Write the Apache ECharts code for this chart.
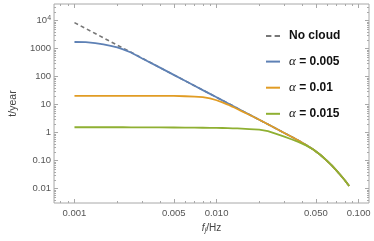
<!DOCTYPE html>
<html>
<head>
<meta charset="utf-8">
<script src="https://cdn.jsdelivr.net/npm/echarts@6/dist/echarts.min.js"></script>
<style>
html,body{margin:0;padding:0;background:#fff;}
#chart{width:374px;height:241px;}
</style>
</head>
<body>
<div id="chart"></div>
<script>
// ---- data ----
var freq = [0.001, 0.0012, 0.0014, 0.0016, 0.0018, 0.002, 0.0022, 0.0025, 0.003, 0.004,
            0.005, 0.006, 0.007, 0.008, 0.009, 0.010, 0.011, 0.012, 0.013, 0.014,
            0.015, 0.017, 0.020, 0.023, 0.026, 0.030, 0.034, 0.038, 0.043, 0.048,
            0.054, 0.060, 0.065, 0.070, 0.075, 0.080, 0.083, 0.0859];

var noCloud = [8500, 5240, 3470, 2430, 1775, 1340, 1040, 750, 455, 211,
               116, 71.6, 47.5, 33.2, 24.3, 18.3, 14.2, 11.3, 9.1, 7.47,
               6.21, 4.45, 2.88, 1.99, 1.43, 0.977, 0.697, 0.513, 0.358, 0.252,
               0.159, 0.0989, 0.0662, 0.0444, 0.0295, 0.020, 0.0157, 0.01245];

var alpha005 = [1730, 1705, 1570, 1415, 1253, 1110, 950, 730, 448, 211,
                116, 71.6, 47.5, 33.2, 24.3, 18.3, 14.2, 11.3, 9.1, 7.47,
                6.21, 4.45, 2.88, 1.99, 1.43, 0.977, 0.697, 0.513, 0.358, 0.252,
                0.159, 0.0989, 0.0662, 0.0444, 0.0295, 0.020, 0.0157, 0.01245];

var alpha01 = [20.5, 20.5, 20.5, 20.5, 20.5, 20.5, 20.5, 20.5, 20.5, 20.5,
               20.5, 20.0, 19.5, 18.6, 16.7, 14.4, 12.1, 10.1, 8.39, 7.0,
               5.87, 4.35, 2.88, 1.99, 1.43, 0.977, 0.697, 0.513, 0.358, 0.252,
               0.159, 0.0989, 0.0662, 0.0444, 0.0295, 0.020, 0.0157, 0.01245];

var alpha015 = [1.56, 1.56, 1.56, 1.56, 1.56, 1.56, 1.56, 1.55, 1.55, 1.54,
                1.53, 1.52, 1.51, 1.50, 1.49, 1.48, 1.47, 1.45, 1.43, 1.42,
                1.40, 1.35, 1.28, 1.13, 0.92, 0.72, 0.57, 0.46, 0.345, 0.25,
                0.159, 0.0989, 0.0662, 0.0444, 0.0295, 0.020, 0.0157, 0.01245];

var seriesNames = ['No cloud', 'α = 0.005', 'α = 0.01', 'α = 0.015'];

var xTickValues = [0.001, 0.005, 0.01, 0.05, 0.1];
var xTickLabels = ['0.001', '0.005', '0.010', '0.050', '0.100'];
var xMinorTicks = [0.0008, 0.0009, 0.002, 0.003, 0.004, 0.006, 0.007, 0.008, 0.009,
                   0.02, 0.03, 0.04, 0.06, 0.07, 0.08, 0.09];

var yTickValues = [0.01, 0.1, 1, 10, 100, 1000, 10000];
var yTickLabels = ['0.01', '0.10', '1', '10', '100', '1000', '10{sup|4}'];
var yMinorTicks = [0.004, 0.005, 0.006, 0.007, 0.008, 0.009,
                   0.02, 0.03, 0.04, 0.05, 0.06, 0.07, 0.08, 0.09,
                   0.2, 0.3, 0.4, 0.5, 0.6, 0.7, 0.8, 0.9,
                   2, 3, 4, 5, 6, 7, 8, 9,
                   20, 30, 40, 50, 60, 70, 80, 90,
                   200, 300, 400, 500, 600, 700, 800, 900,
                   2000, 3000, 4000, 5000, 6000, 7000, 8000, 9000,
                   20000, 30000];

// ---- chart (both axes are logarithmic: the value axes work in log10 units) ----
var L = function (v) { return Math.log10(v); };
var X_MIN = L(0.000718), X_MAX = L(0.1184);
var Y_MIN = L(0.00308), Y_MAX = L(39400);
var FRAME = '#a8a8a8';
var FONT = 'Liberation Sans, Arial, sans-serif';

function lookup(vals, labels, lv) {
  for (var i = 0; i < vals.length; i++) {
    if (Math.abs(lv - L(vals[i])) < 1e-6) return labels[i];
  }
  return '';
}
function pairs(ys) { return freq.map(function (f, i) { return [L(f), L(ys[i])]; }); }

function axisDef(kind, pos, ticks, len, showLabel, extra) {
  var a = {
    type: 'value', position: pos,
    min: kind === 'x' ? X_MIN : Y_MIN, max: kind === 'x' ? X_MAX : Y_MAX,
    axisLine: { show: false, onZero: false },
    axisTick: { show: true, inside: true, length: len, customValues: ticks.map(L),
                lineStyle: { color: FRAME, width: 1 } },
    axisLabel: { show: false, customValues: ticks.map(L) },
    splitLine: { show: false }, minorTick: { show: false }
  };
  if (showLabel) {
    var vals = kind === 'x' ? xTickValues : yTickValues;
    var labs = kind === 'x' ? xTickLabels : yTickLabels;
    a.axisLabel = {
      show: true, customValues: ticks.map(L), margin: kind === 'x' ? 5 : 3,
      color: '#555', fontSize: 9.5, fontFamily: FONT,
      formatter: function (v) { return lookup(vals, labs, v); },
      rich: { sup: { fontSize: 7, color: '#555', fontFamily: FONT, verticalAlign: 'top', padding: [0, 0, 5, 0] } }
    };
  }
  if (extra) for (var k in extra) a[k] = extra[k];
  return a;
}

var chart = echarts.init(document.getElementById('chart'), null, { renderer: 'canvas' });
var colors = ['#777777', '#5E81B5', '#E19C24', '#8FB032'];
var allData = [noCloud, alpha005, alpha01, alpha015];
var solidIcon = 'path://M0,0H14V2H0Z';
var dashIcon = 'path://M0,0H5V2H0Z M8,0H13V2H8Z';

chart.setOption({
  animation: false,
  backgroundColor: '#ffffff',
  grid: { left: 45, right: 5, top: 4, bottom: 38, show: true,
          borderColor: FRAME, borderWidth: 1, containLabel: false },
  legend: {
    orient: 'vertical', left: 266, top: 30, padding: 0,
    itemWidth: 14, itemHeight: 14, itemGap: 13.1,
    data: seriesNames.map(function (n, i) { return { name: n, icon: i === 0 ? dashIcon : solidIcon }; }),
    formatter: function (name) {
      if (name.charAt(0) === 'α') return '{a|α}{b|' + name.slice(1) + '}';
      return '{p|}{b|' + name + '}';
    },
    textStyle: {
      rich: {
        a: { fontFamily: 'Liberation Serif, serif', fontStyle: 'italic', fontSize: 13, color: '#111', padding: [0, 0, 0, 4] },
        p: { padding: [0, 0, 0, 4] },
        b: { fontFamily: FONT, fontWeight: 'bold', fontSize: 12, color: '#111' }
      }
    }
  },
  xAxis: [
    axisDef('x', 'bottom', xTickValues, 4, true, {
      name: '{i|f}{s|j}{n|/Hz}', nameLocation: 'middle', nameGap: 19,
      nameTextStyle: {
        rich: {
          i: { fontFamily: FONT, fontStyle: 'italic', fontSize: 10, color: '#444' },
          s: { fontFamily: FONT, fontStyle: 'italic', fontSize: 7, color: '#444', verticalAlign: 'bottom', padding: [4, 0, 0, 0] },
          n: { fontFamily: FONT, fontSize: 10, color: '#444' }
        }
      }
    }),
    axisDef('x', 'bottom', xMinorTicks, 2, false),
    axisDef('x', 'top', xTickValues, 4, false),
    axisDef('x', 'top', xMinorTicks, 2, false)
  ],
  yAxis: [
    axisDef('y', 'left', yTickValues, 4, true, {
      name: 't/year', nameLocation: 'middle', nameGap: 34, nameRotate: 90,
      nameTextStyle: { fontFamily: FONT, fontSize: 10.5, color: '#444' }
    }),
    axisDef('y', 'left', yMinorTicks, 2, false),
    axisDef('y', 'right', yTickValues, 4, false),
    axisDef('y', 'right', yMinorTicks, 2, false)
  ],
  series: seriesNames.map(function (n, i) {
    return {
      name: n, type: 'line', xAxisIndex: 0, yAxisIndex: 0,
      data: pairs(allData[i]), showSymbol: false, symbol: 'none',
      smooth: false,
      lineStyle: { color: colors[i], width: i === 0 ? 1.6 : 1.8, type: i === 0 ? [4, 3] : 'solid' },
      itemStyle: { color: colors[i] },
      z: 2 + i
    };
  })
});
</script>
</body>
</html>
